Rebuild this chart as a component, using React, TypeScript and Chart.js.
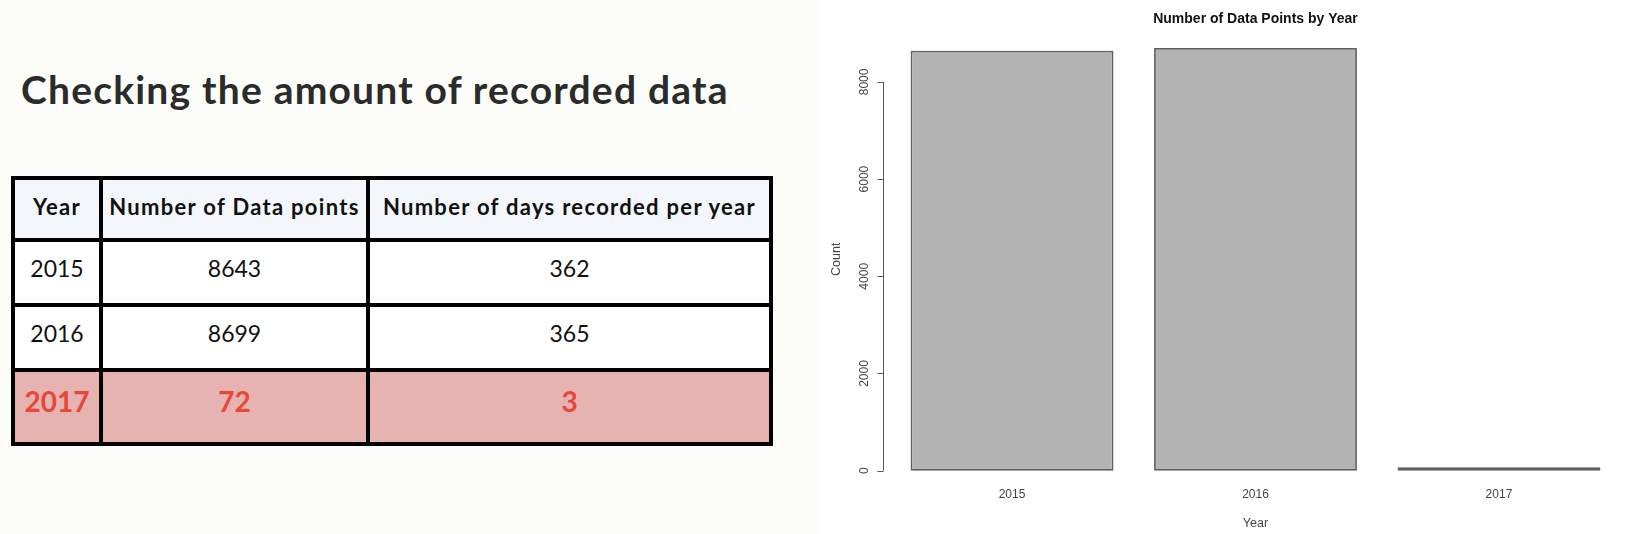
import React, { useEffect, useRef } from "react";
import { Chart, registerables } from "chart.js";

Chart.register(...registerables);

// ---------- data ----------
const years = ["2015", "2016", "2017"];
const dataPoints = [8643, 8699, 72];
const daysRecorded = [362, 365, 3];
const yTickValues = [0, 2000, 4000, 6000, 8000];
const tableHeaders = ["Year", "Number of Data points", "Number of days recorded per year"];
const highlightYear = "2017";
const pageTitle = "Checking the amount of recorded data";
const chartTitle = "Number of Data Points by Year";
const xAxisTitle = "Year";
const yAxisTitle = "Count";

// ---------- R barplot geometry (width 1, space 0.2, 4% axis extension) ----------
const barSpace = 0.2;
const barWidth = 1;
const barCenters = years.map((_, i) => barSpace + barWidth / 2 + i * (barWidth + barSpace));
const xLo = barSpace;
const xHi = years.length * (barWidth + barSpace);
const xExt = 0.04 * (xHi - xLo);
const maxCount = Math.max(...dataPoints);
const yExt = 0.04 * maxCount;

const AXIS_FONT = '"Liberation Sans", Arial, Helvetica, sans-serif';

const rAxisPlugin = {
  id: "rAxis",
  beforeDraw(chart: any) {
    const { ctx, width, height } = chart;
    ctx.save();
    ctx.fillStyle = "#ffffff";
    ctx.fillRect(0, 0, width, height);
    ctx.restore();
  },
  afterDraw(chart: any) {
    const { ctx, chartArea } = chart;
    const y = chart.scales.y;
    const x0 = Math.round(chartArea.left) + 0.5;
    ctx.save();
    ctx.strokeStyle = "#555555";
    ctx.lineWidth = 1;
    const yTop = y.getPixelForValue(yTickValues[yTickValues.length - 1]);
    const yBot = y.getPixelForValue(yTickValues[0]);
    ctx.beginPath();
    ctx.moveTo(x0, yTop);
    ctx.lineTo(x0, yBot);
    yTickValues.forEach((v) => {
      const py = Math.round(y.getPixelForValue(v)) + 0.5;
      ctx.moveTo(x0 - 6, py);
      ctx.lineTo(x0, py);
    });
    ctx.stroke();

    ctx.fillStyle = "#444444";
    ctx.font = `12px ${AXIS_FONT}`;
    ctx.textAlign = "center";
    ctx.textBaseline = "middle";
    yTickValues.forEach((v) => {
      const py = y.getPixelForValue(v);
      ctx.save();
      ctx.translate(x0 - 19, py);
      ctx.rotate(-Math.PI / 2);
      ctx.fillText(String(v), 0, 0);
      ctx.restore();
    });
    ctx.font = `12.5px ${AXIS_FONT}`;
    ctx.save();
    ctx.translate(x0 - 47, (chartArea.top + chartArea.bottom) / 2);
    ctx.rotate(-Math.PI / 2);
    ctx.fillText(yAxisTitle, 0, 0);
    ctx.restore();
    ctx.restore();
  },
};

function BarChart() {
  const ref = useRef<HTMLCanvasElement | null>(null);
  useEffect(() => {
    if (!ref.current) return;
    const chart = new Chart(ref.current, {
      type: "bar",
      data: {
        datasets: [
          {
            label: "Count",
            data: dataPoints.map((v, i) => ({ x: barCenters[i], y: v })),
            backgroundColor: "#b3b3b3",
            borderColor: "#5f5f5f",
            borderWidth: 1.8,
            borderSkipped: false,
            categoryPercentage: 1,
            barPercentage: barWidth / (barWidth + barSpace),
          } as any,
        ],
      },
      options: {
        animation: false,
        responsive: false,
        maintainAspectRatio: false,
        layout: { padding: { left: 63, right: 24, top: 0, bottom: 3 } },
        plugins: {
          legend: { display: false },
          tooltip: { enabled: false },
          title: {
            display: true,
            text: chartTitle,
            color: "#111111",
            fullSize: false,
            font: { family: AXIS_FONT, size: 14, weight: "bold" },
            padding: { top: 11, bottom: 3.2 },
          } as any,
        },
        scales: {
          x: {
            type: "linear",
            min: xLo - xExt,
            max: xHi + xExt,
            offset: false,
            afterBuildTicks: (s: any) => {
              s.ticks = barCenters.map((v) => ({ value: v }));
            },
            grid: { display: false, drawTicks: false },
            border: { display: false },
            ticks: {
              autoSkip: false,
              maxRotation: 0,
              minRotation: 0,
              padding: 0,
              color: "#444444",
              font: { family: AXIS_FONT, size: 12 },
              callback: (_v: any, i: number) => years[i],
            },
            title: {
              display: true,
              text: xAxisTitle,
              color: "#444444",
              font: { family: AXIS_FONT, size: 12.5 },
              padding: { top: 14, bottom: 0 },
            },
          } as any,
          y: {
            display: false,
            min: -yExt,
            max: maxCount + yExt,
          },
        },
      },
      plugins: [rAxisPlugin],
    });
    return () => chart.destroy();
  }, []);
  return (
    <canvas
      ref={ref}
      width={832}
      height={534}
      style={{ position: "absolute", left: 820, top: 0, width: 832, height: 534 }}
    />
  );
}

// ---------- table layout ----------
const vLines = [13, 101, 368, 771];
const hLines = [178, 240, 305, 370, 444];
const LINE = 4;
const LEFT_FONT = 'Lato, "Open Sans", "Noto Sans", sans-serif';

function DataTable() {
  const rows = [tableHeaders, ...years.map((y, i) => [y, String(dataPoints[i]), String(daysRecorded[i])])];
  const cells: any[] = [];
  rows.forEach((row, r) => {
    const isHeader = r === 0;
    const isHi = !isHeader && row[0] === highlightYear;
    row.forEach((txt, c) => {
      const left = vLines[c] + LINE / 2;
      const right = vLines[c + 1] - LINE / 2;
      const top = hLines[r] + LINE / 2;
      const bottom = hLines[r + 1] - LINE / 2;
      cells.push(
        <div
          key={`${r}-${c}`}
          style={{
            position: "absolute",
            left,
            top,
            width: right - left,
            height: bottom - top,
            boxSizing: "border-box",
            paddingBottom: isHeader ? 4 : isHi ? 10 : 8,
            background: isHeader ? "#f3f6fb" : isHi ? "#e7b3b0" : "#ffffff",
            display: "flex",
            alignItems: "center",
            justifyContent: "center",
            fontFamily: LEFT_FONT,
            fontWeight: isHeader || isHi ? 700 : 400,
            fontSize: isHeader ? 22 : isHi ? 28 : 23,
            letterSpacing: isHeader ? 1.3 : 0,
            color: isHi ? "#e8453c" : "#111111",
            whiteSpace: "nowrap",
            lineHeight: 1.2,
          }}
        >
          {txt}
        </div>
      );
    });
  });
  return (
    <div>
      <div
        style={{
          position: "absolute",
          left: vLines[0] - LINE / 2,
          top: hLines[0] - LINE / 2,
          width: vLines[vLines.length - 1] - vLines[0] + LINE,
          height: hLines[hLines.length - 1] - hLines[0] + LINE,
          background: "#000000",
        }}
      />
      {cells}
    </div>
  );
}

export default function App() {
  return (
    <div
      style={{
        position: "fixed",
        left: 0,
        top: 0,
        width: 1652,
        height: 534,
        background: "#fcfdf9",
        overflow: "hidden",
      }}
    >
      <div
        style={{
          position: "absolute",
          left: 21,
          top: 70,
          fontFamily: LEFT_FONT,
          fontWeight: 700,
          fontSize: 39,
          letterSpacing: 1.2,
          lineHeight: "39px",
          color: "#2b2b2b",
          whiteSpace: "nowrap",
        }}
      >
        {pageTitle}
      </div>
      <DataTable />
      <BarChart />
    </div>
  );
}
